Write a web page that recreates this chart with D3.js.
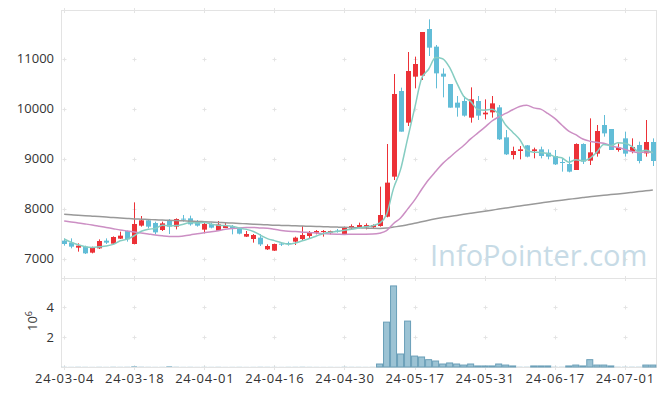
<!DOCTYPE html>
<html><head><meta charset="utf-8">
<script src="https://cdn.jsdelivr.net/npm/d3@7"></script>
<style>body{margin:0;background:#fff;} svg{display:block;} text{font-family:"Open Sans",sans-serif;}</style>
</head><body><svg id="c" width="665" height="396"></svg>
<script>
const dates = ["2024-03-04","2024-03-05","2024-03-06","2024-03-07","2024-03-08",
"2024-03-11","2024-03-12","2024-03-13","2024-03-14","2024-03-15",
"2024-03-18","2024-03-19","2024-03-20","2024-03-21","2024-03-22",
"2024-03-25","2024-03-26","2024-03-27","2024-03-28","2024-03-29",
"2024-04-01","2024-04-02","2024-04-03","2024-04-04","2024-04-05",
"2024-04-08","2024-04-09","2024-04-11","2024-04-12","2024-04-15",
"2024-04-16","2024-04-17","2024-04-18","2024-04-19","2024-04-22",
"2024-04-23","2024-04-24","2024-04-25","2024-04-26","2024-04-29",
"2024-04-30","2024-05-02","2024-05-03","2024-05-07","2024-05-08",
"2024-05-09","2024-05-10","2024-05-13","2024-05-14","2024-05-16",
"2024-05-17","2024-05-20","2024-05-21","2024-05-22","2024-05-23",
"2024-05-24","2024-05-27","2024-05-28","2024-05-29","2024-05-30",
"2024-05-31","2024-06-03","2024-06-04","2024-06-05","2024-06-07",
"2024-06-10","2024-06-11","2024-06-12","2024-06-13","2024-06-14",
"2024-06-17","2024-06-18","2024-06-19","2024-06-20","2024-06-21",
"2024-06-24","2024-06-25","2024-06-26","2024-06-27","2024-06-28",
"2024-07-01","2024-07-02","2024-07-03","2024-07-04","2024-07-05"];

const open = [7361,7321,7221,7241,7121,7207,7361,7301,7401,7554,
7294,7661,7767,7714,7574,7767,7641,7801,7807,7741,
7581,7694,7561,7614,7654,7607,7441,7394,7421,7187,
7161,7301,7314,7341,7394,7454,7521,7534,7521,7561,
7494,7607,7627,7627,7630,7654,7840,8641,10354,9721,
10641,10661,11594,11241,10701,10494,10121,10154,9821,10154,
9887,9927,10027,9427,9074,9154,9267,9154,9187,9121,
9054,8934,8894,8774,9294,8961,9101,9674,9594,9174,
9407,9141,9274,9107,9334];
const high = [7407,7407,7307,7261,7241,7387,7407,7447,7541,7561,
8127,7854,7794,7741,7741,7794,7807,7874,7861,7774,
7741,7721,7754,7727,7674,7621,7554,7494,7494,7287,
7301,7327,7341,7441,7654,7554,7574,7574,7561,7594,
7641,7687,7721,7707,7687,8441,9294,10694,10421,11134,
11041,11534,11787,11274,10807,10494,10254,10254,10427,10254,
10187,10254,10074,9574,9241,9254,9274,9221,9241,9187,
9174,9007,9041,9307,9307,9807,9674,9874,9594,9307,
9541,9407,9341,9774,9407];
const low = [7261,7207,7141,7094,7107,7194,7294,7294,7394,7341,
7287,7641,7607,7487,7554,7494,7587,7741,7661,7641,
7507,7607,7554,7614,7487,7487,7434,7321,7254,7174,
7154,7254,7261,7274,7374,7407,7487,7441,7487,7521,
7494,7587,7607,7587,7607,7641,7827,8574,9541,9654,
10407,10574,11054,10407,10227,10021,9841,9841,9721,9774,
9787,9821,9374,9074,8987,8987,9027,9007,9007,8987,
8874,8741,8727,8774,8894,8874,9041,9441,9174,9141,
9041,9107,8907,9041,8854];
const close = [7294,7241,7261,7107,7221,7354,7321,7434,7461,7387,
7694,7767,7641,7527,7707,7641,7794,7787,7687,7661,
7694,7621,7687,7654,7601,7501,7494,7474,7287,7254,
7294,7294,7307,7421,7474,7521,7554,7554,7554,7554,
7627,7654,7674,7674,7674,7874,8521,10294,9541,10754,
10894,11534,11221,10707,10641,10021,10021,9861,10187,9861,
9921,10107,9387,9087,9154,9187,9041,9187,9054,9041,
8887,8927,8741,9294,8941,9127,9554,9507,9174,9221,
9101,9234,8954,9334,8954];
const volume = [15000,12000,18000,14000,10000,16000,12000,20000,15000,18000,
60000,22000,15000,12000,14000,60000,20000,12000,15000,10000,
14000,12000,16000,10000,12000,14000,10000,12000,18000,15000,
12000,10000,14000,16000,20000,14000,12000,10000,12000,9000,
20000,15000,14000,12000,16000,200000,3000000,5420000,870000,3070000,
730000,670000,490000,400000,200000,270000,200000,130000,200000,70000,
70000,70000,200000,130000,70000,20000,20000,70000,70000,70000,
20000,20000,70000,130000,70000,490000,130000,130000,70000,20000,
20000,20000,20000,130000,130000];
const ma5 = [7394,7330,7280,7240,7225,7237,7253,7287,7358,7391,
7459,7549,7590,7603,7667,7657,7662,7691,7723,7714,
7725,7690,7670,7663,7651,7613,7587,7545,7471,7402,
7361,7321,7287,7314,7358,7403,7455,7505,7531,7547,
7569,7589,7613,7637,7661,7710,7883,8407,8781,9397,
10001,10603,10789,11022,10999,10825,10522,10250,10146,9990,
9970,9987,9893,9673,9531,9384,9171,9131,9125,9102,
9042,9019,8930,8978,8958,9006,9131,9285,9261,9317,
9311,9247,9137,9169,9115];
const ma20 = [7754,7735,7715,7695,7674,7650,7625,7600,7575,7555,
7535,7515,7495,7475,7458,7445,7442,7455,7475,7499,
7519,7538,7560,7587,7606,7613,7622,7624,7615,7609,
7589,7565,7548,7543,7531,7525,7513,7502,7495,7490,
7486,7488,7487,7488,7492,7511,7562,7703,7816,7991,
8171,8383,8578,8743,8901,9026,9149,9265,9396,9512,
9626,9749,9835,9905,9979,10045,10071,10016,9991,9906,
9805,9675,9551,9480,9395,9351,9327,9310,9259,9227,
9186,9142,9121,9133,9123];
const ma120 = [7888,7879,7870,7860,7851,7842,7832,7823,7814,7804,
7795,7790,7784,7779,7773,7768,7762,7757,7751,7746,
7740,7733,7726,7719,7712,7705,7698,7691,7684,7677,
7670,7666,7662,7657,7653,7649,7645,7640,7636,7632,
7628,7623,7618,7613,7608,7606,7612,7634,7652,7680,
7708,7740,7770,7797,7822,7845,7866,7887,7908,7929,
7950,7971,7992,8013,8034,8055,8075,8095,8115,8135,
8154,8171,8188,8205,8222,8240,8254,8268,8282,8296,
8310,8326,8342,8358,8374];
const priceTicks = [7000,8000,9000,10000,11000];
const volTicks = [2000000,4000000];
const xTickIdx = [0,10,20,30,40,50,60,70,80];

const svg = d3.select("#c");
const L = 61, R = 656, PT = 10, PB = 278, VB = 367;
const n = close.length;
const x = d3.scaleLinear().domain([-0.45, n - 0.55]).range([L, R]);
const y = d3.scaleLinear().domain([6614, 11974]).range([PB, PT]);
const yv = d3.scaleLinear().domain([0, 5950000]).range([VB, PB]);
const idx = d3.range(n);
const FONT = "'Open Sans',sans-serif";

// frame
const frame = svg.append("g").attr("fill","none").attr("stroke","#e3e3e3").attr("stroke-width",1);
frame.append("rect").attr("x",L+0.5).attr("y",PT+0.5).attr("width",R-L).attr("height",PB-PT);
frame.append("rect").attr("x",L+0.5).attr("y",PB+0.5).attr("width",R-L).attr("height",VB-PB);

// grid crosses
const crossYs = priceTicks.map(v=>y(v)).concat(volTicks.map(v=>yv(v)));
const cg = svg.append("g").attr("stroke","#e4e4e4").attr("stroke-width",1);
xTickIdx.forEach(i=>{
  const cx = Math.round(x(i))+0.5;
  crossYs.forEach(cy0=>{
    const cy = Math.round(cy0)+0.5;
    cg.append("line").attr("x1",cx-2).attr("x2",cx+2).attr("y1",cy).attr("y2",cy);
    cg.append("line").attr("x1",cx).attr("x2",cx).attr("y1",cy-2).attr("y2",cy+2);
  });
  [PT,PB,VB].forEach(by=>{
    cg.append("line").attr("x1",cx).attr("x2",cx).attr("y1",by-2).attr("y2",by+3);
  });
});

// watermark
svg.append("text").attr("x",430).attr("y",266).attr("font-size",29).attr("fill","#c7dbe6")
  .style("font-family",FONT).text("InfoPointer.com");

// y axis (price)
const ya = svg.append("g").attr("transform",`translate(${L},0)`)
  .call(d3.axisLeft(y).tickValues(priceTicks).tickSize(0).tickPadding(7).tickFormat(d3.format("d")));
ya.select(".domain").remove();
ya.selectAll("text").attr("font-size",13).attr("fill","#333").style("font-family",FONT);

// volume axis
const va = svg.append("g").attr("transform",`translate(${L},0)`)
  .call(d3.axisLeft(yv).tickValues(volTicks).tickSize(0).tickPadding(7).tickFormat(d=>d/1e6));
va.select(".domain").remove();
va.selectAll("text").attr("font-size",13).attr("fill","#333").style("font-family",FONT);
const lab = svg.append("text").attr("transform","translate(37,331) rotate(-90)")
  .attr("font-size",13).attr("fill","#333").style("font-family",FONT);
lab.append("tspan").text("10");
lab.append("tspan").attr("dy",-5).attr("font-size",9).text("6");

// x axis
const xa = svg.append("g").attr("transform",`translate(0,${VB})`)
  .call(d3.axisBottom(x).tickValues(xTickIdx).tickSize(0).tickPadding(7).tickFormat(i=>dates[i].slice(2)));
xa.select(".domain").remove();
xa.selectAll("text").attr("font-size",13).attr("fill","#333").attr("letter-spacing","0.8px").style("font-family",FONT);

// volume bars
const step = x(1) - x(0);
svg.append("g").selectAll("rect").data(idx).join("rect")
  .attr("x", i => x(i) - step/2 + 0.5)
  .attr("width", step - 1)
  .attr("y", i => yv(volume[i]))
  .attr("height", i => VB - yv(volume[i]))
  .attr("fill", "#9cc3d4")
  .attr("stroke", i => (VB - yv(volume[i])) >= 1 ? "#6a9fb8" : "none")
  .attr("stroke-width", 1);

// candles
const up = "#ec3137", dn = "#62bdd7";
const cd = svg.append("g");
cd.selectAll("line").data(idx).join("line")
  .attr("x1", i => Math.round(x(i))+0.5).attr("x2", i => Math.round(x(i))+0.5)
  .attr("y1", i => y(high[i])).attr("y2", i => y(low[i]))
  .attr("stroke", i => close[i] >= open[i] ? up : dn).attr("stroke-width", 1);
cd.selectAll("rect").data(idx).join("rect")
  .attr("x", i => Math.round(x(i)) - 2)
  .attr("width", 5)
  .attr("y", i => y(Math.max(open[i], close[i])))
  .attr("height", i => Math.max(1, Math.abs(y(open[i]) - y(close[i]))))
  .attr("fill", i => close[i] >= open[i] ? up : dn);

// moving averages
const line = arr => d3.line().x((d,i)=>x(i)).y(d=>y(d)).curve(d3.curveMonotoneX)(arr);
svg.append("path").attr("d", line(ma120)).attr("fill","none").attr("stroke","#999").attr("stroke-width",1.5);
svg.append("path").attr("d", line(ma20)).attr("fill","none").attr("stroke","#cc8fc4").attr("stroke-width",1.5);
svg.append("path").attr("d", line(ma5)).attr("fill","none").attr("stroke","#86cdc2").attr("stroke-width",1.5);
</script></body></html>
